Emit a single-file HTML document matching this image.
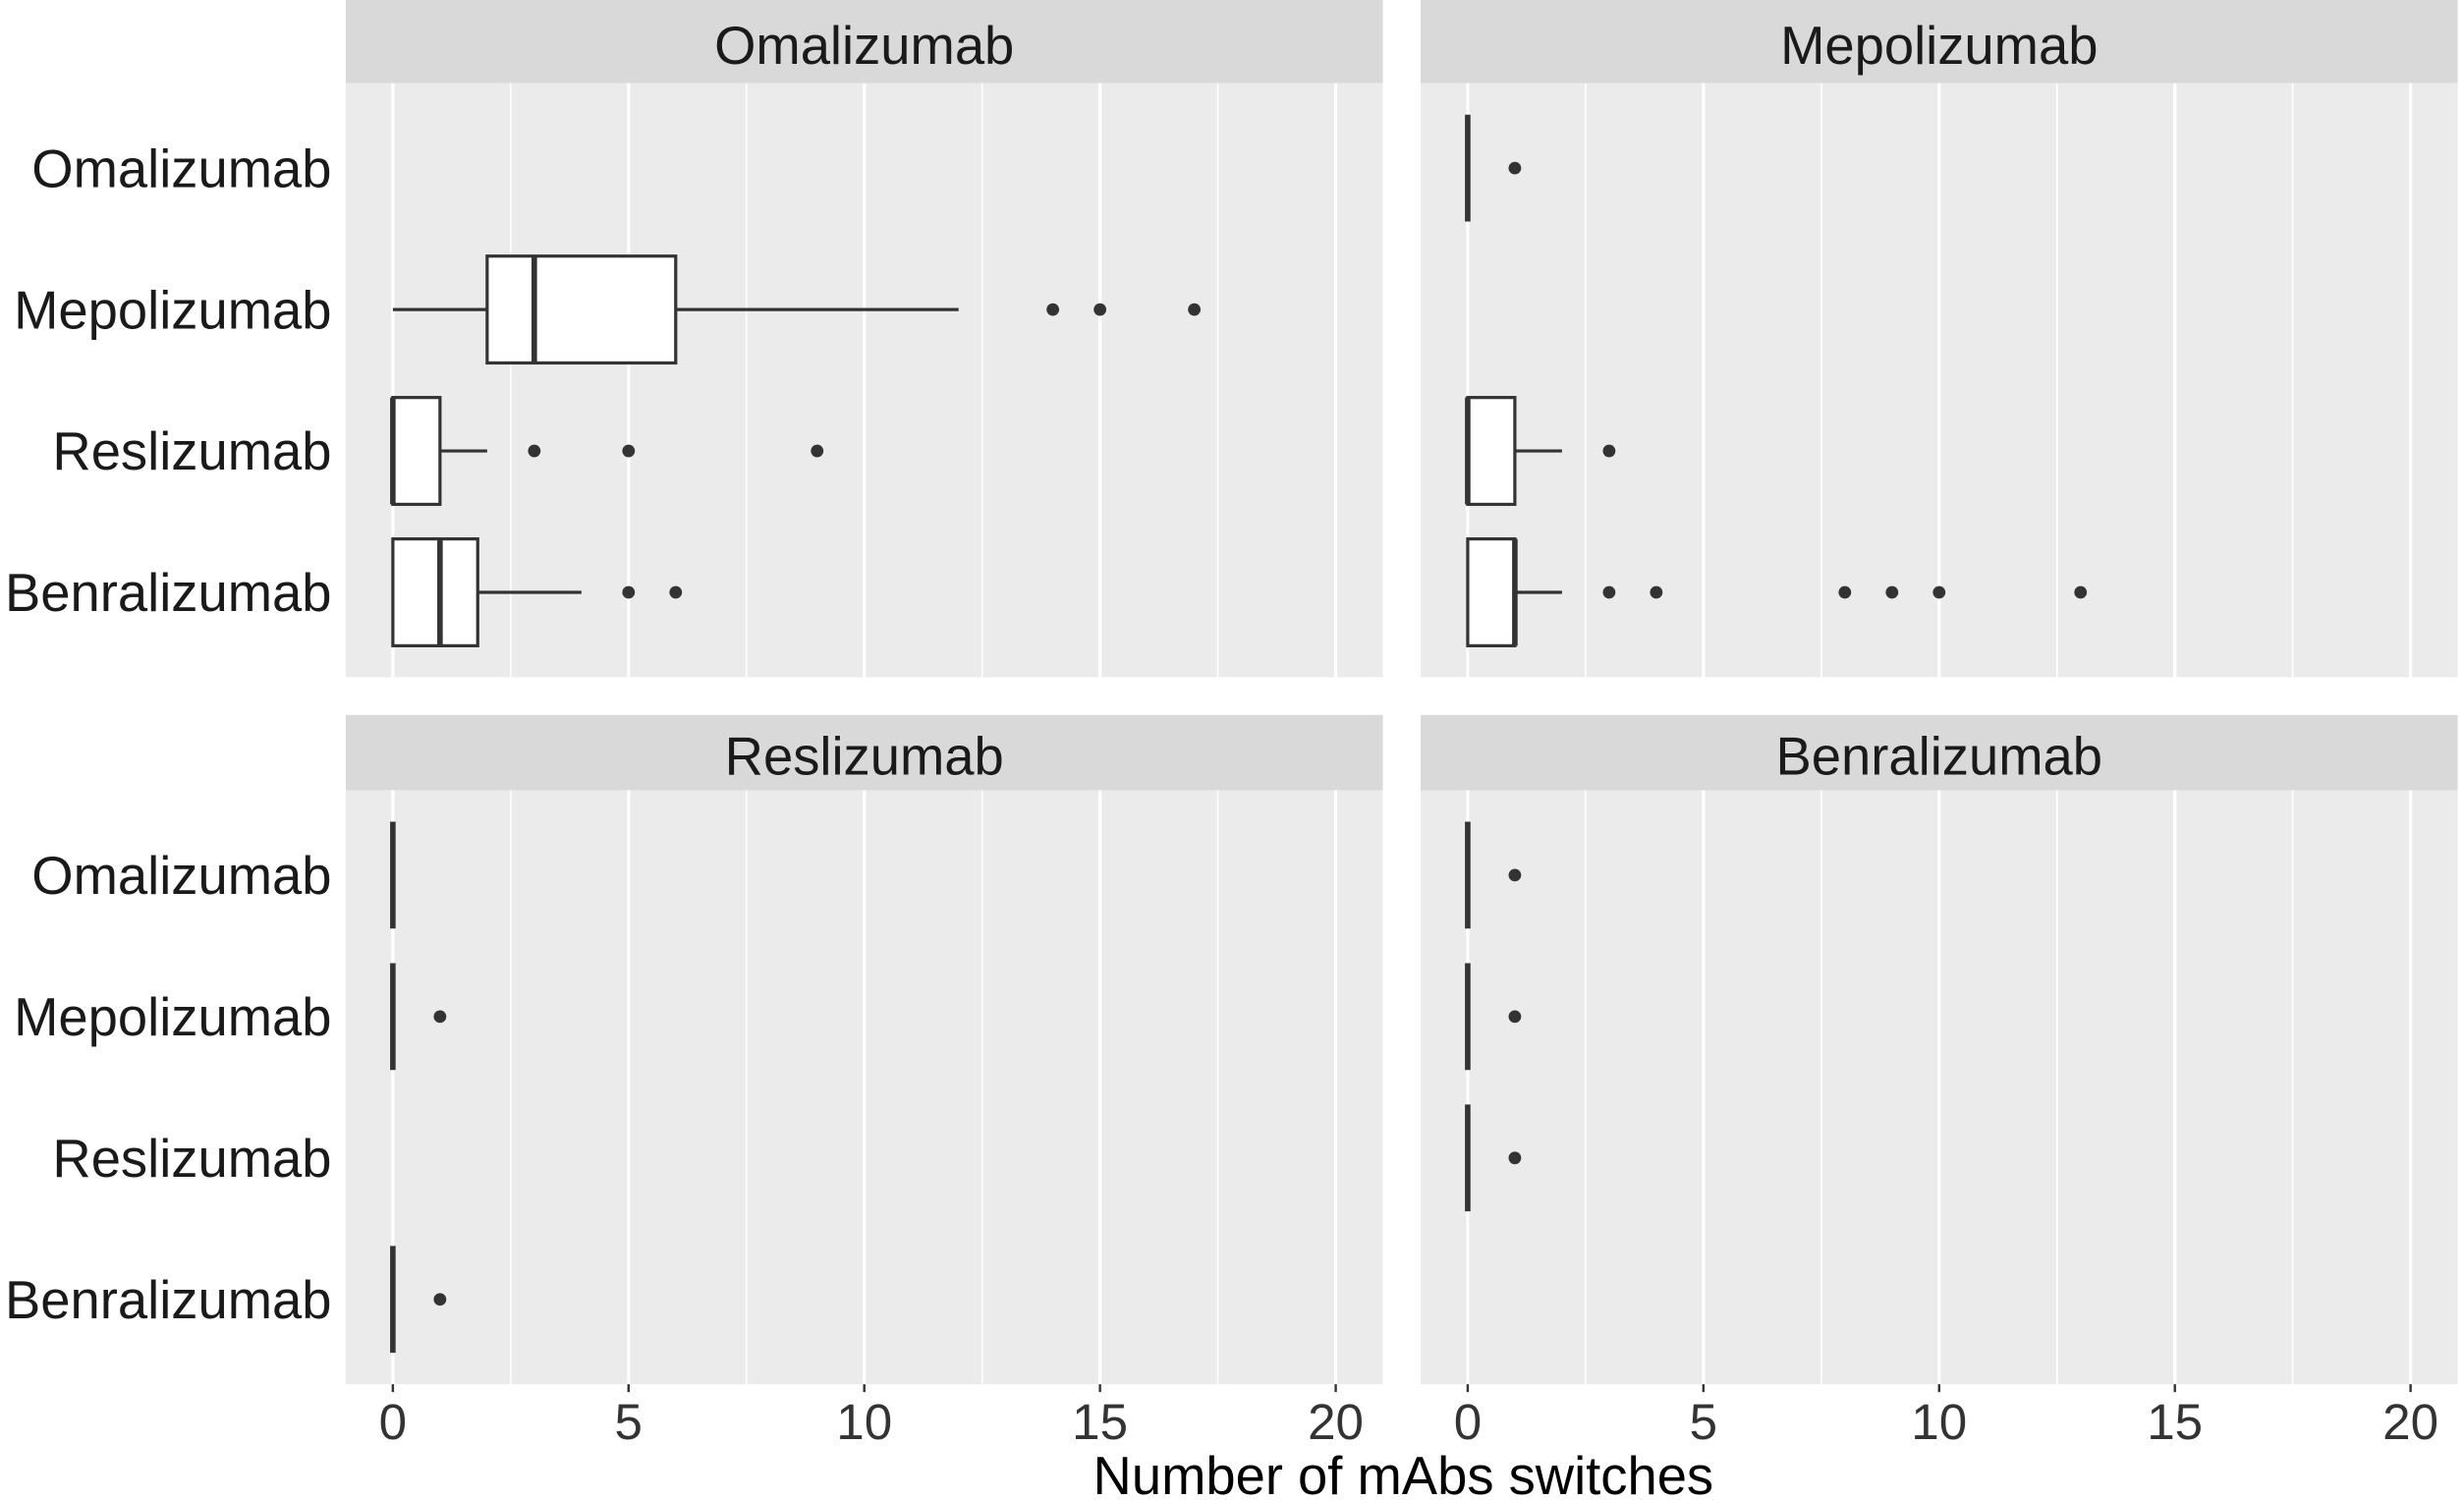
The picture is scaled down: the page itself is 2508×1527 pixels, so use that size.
<!DOCTYPE html>
<html><head><meta charset="utf-8"><style>
html,body{margin:0;padding:0;background:#fff;}
svg{display:block;}
text{font-family:"Liberation Sans",sans-serif;}
</style></head><body>
<svg id="chart" width="2508" height="1527" viewBox="0 0 1568 954.7" preserveAspectRatio="none" xmlns="http://www.w3.org/2000/svg"></svg>
<script>
const panels = ["Omalizumab","Mepolizumab","Reslizumab","Benralizumab"];
const categories = ["Omalizumab","Mepolizumab","Reslizumab","Benralizumab"];
const xTicks = [0,5,10,15,20];
const xMinor = [2.5,7.5,12.5,17.5];
// per panel, per category: [whiskerLow, q1, median, q3, whiskerHigh] or null
const boxStats = [
  [null,[0,2,3,6,12],[0,0,0,1,2],[0,0,1,1.8,4]],
  [[0,0,0,0,0],null,[0,0,0,1,2],[0,0,1,1,2]],
  [[0,0,0,0,0],[0,0,0,0,0],null,[0,0,0,0,0]],
  [[0,0,0,0,0],[0,0,0,0,0],[0,0,0,0,0],null]
];
const outliers = [
  [[],[14,15,17],[3,5,9],[5,6]],
  [[1],[],[3],[3,4,8,9,10,13]],
  [[],[1],[],[1]],
  [[1],[1],[1],[]]
];
const xAxisTitle = "Number of mAbs switches";

const NS="http://www.w3.org/2000/svg";
const svg=document.getElementById('chart');
function mk(tag,attrs,parent){const e=document.createElementNS(NS,tag);for(const k in attrs)e.setAttribute(k,attrs[k]);(parent||svg).appendChild(e);return e;}
const layout=[{x0:220,y0:53,sh:53},{x0:904,y0:53,sh:53},{x0:220,y0:503,sh:48},{x0:904,y0:503,sh:48}];
const PW=660, PH=378, unit=30;
panels.forEach((p,pi)=>{
  const L=layout[pi];
  const g=mk('g',{});
  
  
  const xs=v=>L.x0+(v+1)*unit;
  const ys=i=>L.y0+(i+0.6)*90;
  const strip=mk('rect',{x:L.x0,y:L.y0-L.sh,width:PW,height:L.sh,fill:'#D9D9D9'},g);
  
  
  const st=mk('text',{x:L.x0+PW/2,y:L.y0-L.sh/2+14,'text-anchor':'middle','font-size':34,fill:'#1a1a1a'},g);
  st.textContent=p;
  
  
  const bg=mk('rect',{x:L.x0,y:L.y0,width:PW,height:PH,fill:'#EBEBEB'},g);
  
  
  xMinor.forEach(v=>{const l=mk('line',{x1:xs(v),x2:xs(v),y1:L.y0,y2:L.y0+PH,stroke:'#fff','stroke-width':1},g);
    
    });
  xTicks.forEach(v=>{const l=mk('line',{x1:xs(v),x2:xs(v),y1:L.y0,y2:L.y0+PH,stroke:'#fff','stroke-width':2},g);
    
    });
  if(pi>=2){
    xTicks.forEach(v=>{
      const tk=mk('line',{x1:xs(v),x2:xs(v),y1:L.y0+PH,y2:L.y0+PH+5,stroke:'#333','stroke-width':1.5},g);
      
      
      const t=mk('text',{x:xs(v),y:L.y0+PH+35,'text-anchor':'middle','font-size':32,fill:'#333'},g);
      t.textContent=v;
      
      
    });
  }
  if(pi%2===0){
    categories.forEach((c,i)=>{
      const t=mk('text',{x:211,y:ys(i)+12,'text-anchor':'end','font-size':34,fill:'#1a1a1a'},g);
      t.textContent=c;
      
      
    });
  }
  categories.forEach((c,i)=>{
    const s=boxStats[pi][i]; const y=ys(i);
    if(s){
      const bx=mk('g',{},g);
      
      
      mk('line',{x1:xs(s[0]),x2:xs(s[1]),y1:y,y2:y,stroke:'#333','stroke-width':2},bx);
      mk('line',{x1:xs(s[3]),x2:xs(s[4]),y1:y,y2:y,stroke:'#333','stroke-width':2},bx);
      mk('rect',{x:xs(s[1]),y:y-34,width:Math.max(0,xs(s[3])-xs(s[1])),height:68,fill:'#fff',stroke:'#333','stroke-width':2},bx);
      mk('line',{x1:xs(s[2]),x2:xs(s[2]),y1:y-34,y2:y+34,stroke:'#333','stroke-width':3.5},bx);
    }
    outliers[pi][i].forEach(v=>{
      const pt=mk('circle',{cx:xs(v),cy:y,r:4,fill:'#333'},g);
      
      
    });
  });
});
const xt=mk('text',{x:893,y:951,'text-anchor':'middle','font-size':34,fill:'#000'});
xt.textContent=xAxisTitle;


</script>
</body></html>
